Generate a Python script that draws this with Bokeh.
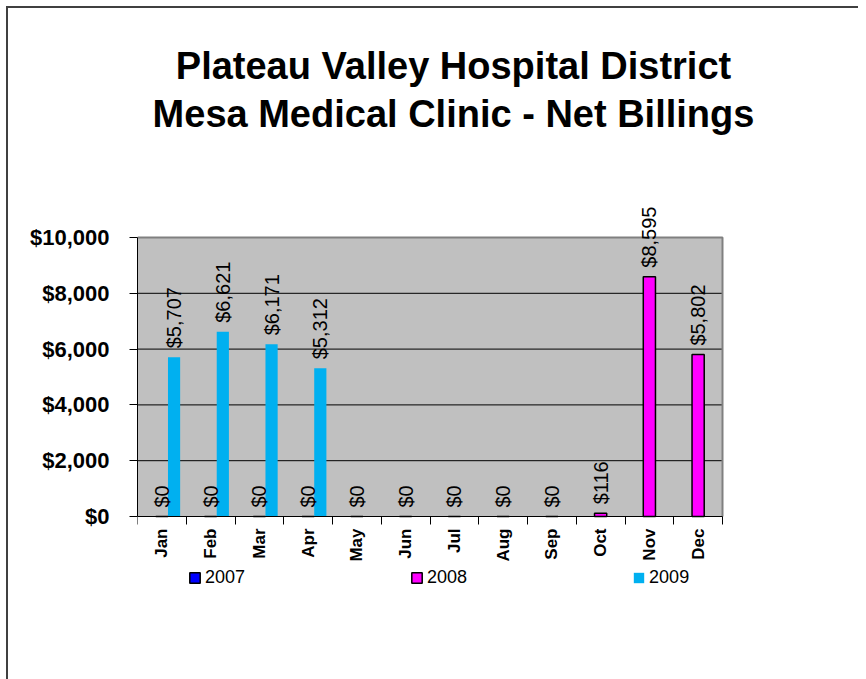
import math
import numpy as np
from bokeh.plotting import figure
from bokeh.core.properties import value
from bokeh.models import (Range1d, FixedTicker, NumeralTickFormatter, ColumnDataSource,
                          LabelSet, Label, Legend, LegendItem)
from bokeh.embed import file_html
from bokeh.resources import INLINE

# ---------------- data ----------------
months = ["Jan", "Feb", "Mar", "Apr", "May", "Jun", "Jul", "Aug", "Sep", "Oct", "Nov", "Dec"]
series_names = ["2007", "2008", "2009"]
values_2007 = [None] * 12
values_2008 = [0, 0, 0, 0, 0, 0, 0, 0, 0, 116, 8595, 5802]
values_2009 = [5707, 6621, 6171, 5312, None, None, None, None, None, None, None, None]
y_ticks = [0, 2000, 4000, 6000, 8000, 10000]
title_lines = ["Plateau Valley Hospital District", "Mesa Medical Clinic - Net Billings"]

# ---------------- styles / layout (pixels) ----------------
FONT = "Liberation Sans"
colors = ["#0000FF", "#FF00FF", "#00B0F0"]
outlines = ["#000000", "#000000", None]
offsets = [-0.25, 0.0, 0.25]
bar_width = 0.25
PLOT_W, PLOT_H = 585, 279          # grey plotting area
FRAME_W, FRAME_H = 713, 611        # frame also holds title, value labels and legend
BORDER_L, BORDER_T, BORDER_B = 129, 2, 58
CANVAS_W = 850
CANVAS_TOP = 8                     # page y of canvas top (margin 6 + border 2)
AXIS_Y = 516                       # page y of the value-axis zero line
FRAME_BOTTOM = CANVAS_TOP + BORDER_T + FRAME_H

n = len(months)
px_per_unit = PLOT_H / (y_ticks[-1] - y_ticks[0])
X_END = n * FRAME_W / PLOT_W
Y_START = -(FRAME_BOTTOM - AXIS_Y) / px_per_unit
Y_END = (AXIS_Y - CANVAS_TOP - BORDER_T) / px_per_unit

p = figure(x_range=Range1d(0, X_END), y_range=Range1d(Y_START, Y_END),
           frame_width=FRAME_W, frame_height=FRAME_H,
           min_border_left=BORDER_L, min_border_right=CANVAS_W - BORDER_L - FRAME_W,
           min_border_top=BORDER_T, min_border_bottom=BORDER_B,
           output_backend="svg", toolbar_location=None,
           background_fill_color="white", border_fill_color="white",
           outline_line_color=None)
p.margin = (6, 0, 0, 6)
p.styles = {"border-left": "2px solid #404040", "border-top": "2px solid #404040"}

# grey plot area + its outline
p.quad(left=[0], right=[n], bottom=[y_ticks[0]], top=[y_ticks[-1]],
       fill_color="#C0C0C0", line_color=None, level="image")
p.segment(x0=[0] * (len(y_ticks) - 2), x1=[n] * (len(y_ticks) - 2),
          y0=y_ticks[1:-1], y1=y_ticks[1:-1], line_color="black", line_width=1, level="underlay")
p.line(x=[0, n, n], y=[y_ticks[-1], y_ticks[-1], y_ticks[0]],
       line_color="#808080", line_width=2, level="underlay")

p.xgrid.visible = False
p.ygrid.visible = False

# x axis at value 0: labels at category centres, tick marks at boundaries
xa = p.xaxis[0]
xa.fixed_location = 0
xa.bounds = (0, n)
xa.ticker = FixedTicker(ticks=[i + 0.5 for i in range(n)], minor_ticks=list(range(n + 1)))
xa.major_label_overrides = {i + 0.5: m for i, m in enumerate(months)}
xa.major_tick_line_color = None
xa.major_tick_out = 0
xa.major_tick_in = 0
xa.minor_tick_out = 8
xa.minor_tick_in = 0
xa.minor_tick_line_color = "black"
xa.axis_line_color = "black"
xa.major_label_orientation = math.pi / 2
xa.major_label_standoff = 4
xa.major_label_text_font = FONT
xa.major_label_text_font_size = "17px"
xa.major_label_text_font_style = "bold"
xa.major_label_text_color = "black"

ya = p.yaxis[0]
ya.bounds = (y_ticks[0], y_ticks[-1])
ya.ticker = FixedTicker(ticks=y_ticks, minor_ticks=[])
ya.formatter = NumeralTickFormatter(format="$0,0")
ya.major_tick_out = 8
ya.major_tick_in = 0
ya.major_tick_line_color = "black"
ya.axis_line_color = "black"
ya.major_label_standoff = 20
ya.major_label_text_font = FONT
ya.major_label_text_font_size = "22px"
ya.major_label_text_font_style = "bold"
ya.major_label_text_color = "black"

# ---------------- bars ----------------
all_values = [values_2007, values_2008, values_2009]
renderers = []
for k, vals in enumerate(all_values):
    xs = [i + 0.5 + offsets[k] for i in range(n)]
    tops = [np.nan if v is None else v for v in vals]
    src = ColumnDataSource(dict(x=xs, top=tops))
    r = p.vbar(x="x", top="top", bottom=0, width=bar_width, source=src,
               fill_color=colors[k], line_color=outlines[k], line_width=1.5)
    renderers.append(r)
    lx = [x for x, v in zip(xs, vals) if v is not None]
    ly = [v for v in vals if v is not None]
    lt = ["${:,.0f}".format(v) for v in vals if v is not None]
    if lx:
        lsrc = ColumnDataSource(dict(x=lx, y=ly, t=lt))
        p.add_layout(LabelSet(x="x", y="y", text="t", source=lsrc, angle=math.pi / 2,
                              text_align="left", text_baseline="middle", y_offset=9,
                              text_font=value(FONT), text_font_size="20px", text_color="black"))

# ---------------- legend (inside the extended frame) ----------------
legend = Legend(items=[LegendItem(label=nm, renderers=[r]) for nm, r in zip(series_names, renderers)],
                orientation="horizontal", location=(51, FRAME_BOTTOM - 588), padding=0, margin=0,
                spacing=165, glyph_width=13, glyph_height=13, label_height=20,
                label_standoff=4, label_text_font=FONT, label_text_font_size="18px",
                label_text_color="black", border_line_color=None, background_fill_alpha=0)
p.add_layout(legend)

# ---------------- title ----------------
for line, page_y in zip(title_lines, [65, 113]):
    p.add_layout(Label(x=316, y=FRAME_BOTTOM - page_y, x_units="screen", y_units="screen", text=line,
                       text_align="center", text_baseline="alphabetic",
                       text_font=FONT, text_font_size="38px", text_font_style="bold",
                       text_color="black"))

open("out.html", "w").write(file_html(p, INLINE))
